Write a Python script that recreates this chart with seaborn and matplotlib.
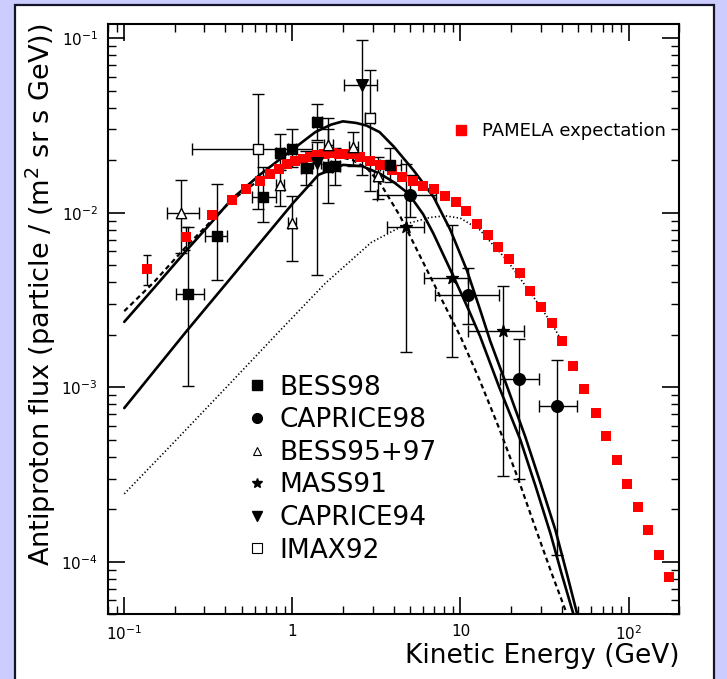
import numpy as np
import pandas as pd
import matplotlib
matplotlib.use("Agg")
import matplotlib.pyplot as plt
import seaborn as sns
from matplotlib.patches import Rectangle
from matplotlib.lines import Line2D
from matplotlib.ticker import FixedLocator, FixedFormatter, LogLocator, NullFormatter

# ---------------- data ----------------
pamela_E = [0.136, 0.234, 0.333, 0.437, 0.528, 0.643, 0.741, 0.838, 0.927, 1.04, 1.16, 1.28,
            1.40, 1.55, 1.71, 1.89, 2.11, 2.31, 2.51, 2.88, 3.33, 3.89, 4.47, 5.19, 6.01, 6.95,
            8.09, 9.40, 10.8, 12.6, 14.5, 16.8, 19.4, 22.5, 26.0, 30.1, 34.8, 40.4, 46.7, 54.4,
            63.7, 73.4, 84.9, 97.9, 113, 131, 152, 175]
pamela_F = [4.79e-3, 7.26e-3, 9.66e-3, 0.0118, 0.0136, 0.0153, 0.0167, 0.0179, 0.0191, 0.0197,
            0.0203, 0.0209, 0.0214, 0.0218, 0.0219, 0.0218, 0.0218, 0.0216, 0.0209, 0.0199,
            0.0188, 0.0175, 0.0161, 0.0152, 0.0142, 0.0136, 0.0125, 0.0115, 0.0102, 8.63e-3,
            7.41e-3, 6.33e-3, 5.42e-3, 4.49e-3, 3.55e-3, 2.87e-3, 2.34e-3, 1.84e-3, 1.33e-3,
            9.71e-4, 7.13e-4, 5.24e-4, 3.84e-4, 2.79e-4, 2.07e-4, 1.52e-4, 1.10e-4, 8.13e-5]
pamela_err_lo = [3.85e-3, 6.1e-3]   # first two points only
pamela_err_hi = [5.7e-3, 8.3e-3]

# model curves
curveA_E = [0.1, 0.15, 0.235, 0.33, 0.437, 0.64, 1.0, 1.37, 1.7, 2.0, 2.4, 2.76, 3.3, 4.0, 5.26,
            6.92, 8.69, 10.9, 13.1, 15.0, 19.0, 24.3, 30.0, 36.7, 43.0, 49.5]
curveA_F = [2.37e-3, 3.7e-3, 6.1e-3, 8.8e-3, 0.0120, 0.0165, 0.023, 0.029, 0.032, 0.0334, 0.0327,
            0.0316, 0.029, 0.024, 0.0175, 0.0123, 8.0e-3, 4.7e-3, 2.77e-3, 1.85e-3, 1.0e-3,
            5.2e-4, 2.8e-4, 1.52e-4, 8.5e-5, 5.0e-5]
curveB_E = [0.1, 0.235, 0.437, 0.738, 1.02, 1.43, 2.0, 2.6, 3.3, 4.0, 4.9, 6.0, 6.9, 9.1, 11.2,
            13.1, 17.0, 22.7, 28.0, 34.3, 40.0, 47.0]
curveB_F = [7.6e-4, 2.1e-3, 4.3e-3, 7.9e-3, 0.0115, 0.0165, 0.0188, 0.0185, 0.0168, 0.0150,
            0.0129, 9.8e-3, 7.6e-3, 4.3e-3, 2.77e-3, 1.95e-3, 1.0e-3, 5.0e-4, 2.7e-4, 1.45e-4,
            8.5e-5, 5.0e-5]
curveC_E = [0.1, 0.15, 0.23, 0.33, 0.437, 0.64, 1.0, 1.4, 1.8, 2.3, 2.8, 3.34, 4.39, 5.77, 7.59,
            10.0, 13.0, 17.0, 22.0, 28.0, 35.0, 43.0]
curveC_F = [2.73e-3, 4.0e-3, 6.3e-3, 9.0e-3, 0.0118, 0.0155, 0.0195, 0.021, 0.0212, 0.020, 0.0178,
            0.0147, 9.5e-3, 5.6e-3, 3.3e-3, 1.95e-3, 1.1e-3, 5.8e-4, 3.0e-4, 1.55e-4, 8.5e-5, 5.0e-5]
curveD_E = [0.1, 0.2, 0.437, 0.8, 1.56, 2.94, 4.0, 4.89, 6.6, 8.13, 10.0, 13.0, 15.5, 18.9, 23.8,
            29.9, 35.0, 40.0]
curveD_F = [2.45e-4, 4.9e-4, 1.08e-3, 2.0e-3, 3.92e-3, 6.75e-3, 7.9e-3, 8.7e-3, 9.4e-3, 9.6e-3,
            9.3e-3, 8.0e-3, 6.6e-3, 5.35e-3, 3.93e-3, 2.89e-3, 2.3e-3, 1.85e-3]

# experiments: E, F, E_lo, E_hi, F_lo, F_hi
bess98_E = [0.239, 0.356, 0.673, 0.845, 0.99, 1.20, 1.41, 1.62, 1.80, 3.82]
bess98_F = [3.44e-3, 7.38e-3, 0.0123, 0.0221, 0.0231, 0.0180, 0.0332, 0.0183, 0.0185, 0.0187]
bess98_Elo = [0.204, 0.303, 0.574, 0.80, 0.94, 1.12, 1.33, 1.52, 1.70, 3.3]
bess98_Ehi = [0.298, 0.411, 0.80, 0.89, 1.05, 1.30, 1.50, 1.72, 1.92, 4.4]
bess98_Flo = [1.02e-3, 4.1e-3, 8.9e-3, 0.0175, 0.0182, 0.0145, 0.026, 0.0113, 0.0145, 0.0150]
bess98_Fhi = [8.3e-3, 0.0147, 0.0184, 0.0284, 0.030, 0.0225, 0.0419, 0.0347, 0.0235, 0.0235]

caprice98_E = [4.98, 11.1, 22.2, 37.3]
caprice98_F = [0.0126, 3.37e-3, 1.11e-3, 7.78e-4]
caprice98_Elo = [3.2, 7.08, 17.2, 29.3]
caprice98_Ehi = [7.2, 16.9, 29.3, 49.2]
caprice98_Flo = [9.5e-3, 2.3e-3, 3.0e-4, 1.1e-4]
caprice98_Fhi = [0.0165, 4.8e-3, 1.9e-3, 1.44e-3]

bess9597_E = [0.217, 0.845, 0.99, 1.64, 2.31, 3.24]
bess9597_F = [9.95e-3, 0.0144, 8.7e-3, 0.0244, 0.0239, 0.0163]
bess9597_Elo = [0.179, 0.80, 0.94, 1.55, 2.18, 3.05]
bess9597_Ehi = [0.280, 0.89, 1.05, 1.74, 2.45, 3.45]
bess9597_Flo = [5.9e-3, 0.011, 5.3e-3, 0.019, 0.0185, 0.0120]
bess9597_Fhi = [0.0154, 0.018, 0.0125, 0.030, 0.029, 0.021]

mass91_E = [4.73, 8.93, 18.0]
mass91_F = [8.24e-3, 4.2e-3, 2.09e-3]
mass91_Elo = [3.67, 6.1, 11.1]
mass91_Ehi = [6.1, 11.1, 24.0]
mass91_Flo = [1.6e-3, 1.5e-3, 3.1e-4]
mass91_Fhi = [0.019, 8.5e-3, 3.8e-3]

caprice94_E = [1.40, 2.59]
caprice94_F = [0.0192, 0.0543]
caprice94_Elo = [1.32, 2.04]
caprice94_Ehi = [1.48, 3.17]
caprice94_Flo = [4.4e-3, 0.0164]
caprice94_Fhi = [0.0255, 0.0975]

imax92_E = [0.628, 2.88]
imax92_F = [0.0233, 0.0349]
imax92_Elo = [0.252, 2.70]
imax92_Ehi = [1.30, 3.05]
imax92_Flo = [0.0105, 0.0134]
imax92_Fhi = [0.0479, 0.066]

legend_labels = ["BESS98", "CAPRICE98", "BESS95+97", "MASS91", "CAPRICE94", "IMAX92"]
x_tick_vals = [0.1, 1, 10, 100]
x_tick_labels = ["$10^{-1}$", "1", "10", "$10^{2}$"]
y_tick_vals = [1e-4, 1e-3, 1e-2, 1e-1]
y_tick_labels = ["$10^{-4}$", "$10^{-3}$", "$10^{-2}$", "$10^{-1}$"]

# ---------------- style ----------------
sns.set_theme(style="ticks")
plt.rcParams['font.family'] = ['DejaVu Sans']
plt.rcParams['mathtext.fontset'] = 'dejavusans'
plt.rcParams['mathtext.default'] = 'regular'
for k in ['text.color', 'axes.labelcolor', 'xtick.color', 'ytick.color', 'axes.edgecolor']:
    plt.rcParams[k] = 'black'

W, H = 727, 679
fig = plt.figure(figsize=(W / 100, H / 100), dpi=100)
fig.patch.set_facecolor('#ccccff')
fig.add_artist(Rectangle((15 / W, -0.05), (714 - 15) / W, 1 - 5 / H + 0.05,
                         transform=fig.transFigure, facecolor='white',
                         edgecolor='#15152a', lw=1.6, zorder=0))

ax = fig.add_axes([107.6 / W, 1 - 614.3 / H, (679.2 - 107.6) / W, (614.3 - 23.8) / H])
ax.set_facecolor('white')
ax.set_xscale('log')
ax.set_yscale('log')

# model curves
curve_specs = [
    (curveA_E, curveA_F, '-', 1.9),
    (curveB_E, curveB_F, '-', 1.9),
    (curveC_E, curveC_F, (0, (2.2, 1.6)), 1.6),
    (curveD_E, curveD_F, (0, (0.8, 1.4)), 1.2),
]
for cx, cy, ls, lw in curve_specs:
    df = pd.DataFrame({"E": cx, "F": cy})
    sns.lineplot(data=df, x="E", y="F", ax=ax, sort=False, estimator=None,
                 color='black', lw=lw, zorder=2)
    ax.lines[-1].set_linestyle(ls)

# experiments
experiments = [
    (bess98_E, bess98_F, bess98_Elo, bess98_Ehi, bess98_Flo, bess98_Fhi, 's', 'black', 42),
    (caprice98_E, caprice98_F, caprice98_Elo, caprice98_Ehi, caprice98_Flo, caprice98_Fhi, 'o', 'black', 70),
    (bess9597_E, bess9597_F, bess9597_Elo, bess9597_Ehi, bess9597_Flo, bess9597_Fhi, '^', 'white', 55),
    (mass91_E, mass91_F, mass91_Elo, mass91_Ehi, mass91_Flo, mass91_Fhi, '*', 'black', 80),
    (caprice94_E, caprice94_F, caprice94_Elo, caprice94_Ehi, caprice94_Flo, caprice94_Fhi, 'v', 'black', 70),
    (imax92_E, imax92_F, imax92_Elo, imax92_Ehi, imax92_Flo, imax92_Fhi, 's', 'white', 55),
]
for e, f, elo, ehi, flo, fhi, mk, fc, s in experiments:
    e = np.array(e); f = np.array(f)
    xerr = [e - np.array(elo), np.array(ehi) - e]
    yerr = [f - np.array(flo), np.array(fhi) - f]
    ax.errorbar(e, f, xerr=xerr, yerr=yerr, fmt='none', ecolor='black',
                elinewidth=1.0, capsize=4, capthick=1.0, zorder=3)

# PAMELA
pe = np.array(pamela_E[:2]); pf = np.array(pamela_F[:2])
ax.errorbar(pe, pf, yerr=[pf - np.array(pamela_err_lo), np.array(pamela_err_hi) - pf],
            fmt='none', ecolor='black', elinewidth=1.0, capsize=3, zorder=3)
sns.scatterplot(x=pamela_E, y=pamela_F, marker='s', s=58, color='#ff0000',
                linewidth=0, ax=ax, zorder=4)

for e, f, elo, ehi, flo, fhi, mk, fc, s in experiments:
    sns.scatterplot(x=e, y=f, marker=mk, s=s, color=fc, edgecolor='black',
                    linewidth=1.0, ax=ax, zorder=5)

# axes
ax.set_xlim(0.0796, 200)
ax.set_ylim(5.0e-5, 0.121)
ax.xaxis.set_major_locator(FixedLocator(x_tick_vals))
ax.xaxis.set_major_formatter(FixedFormatter(x_tick_labels))
ax.yaxis.set_major_locator(FixedLocator(y_tick_vals))
ax.yaxis.set_major_formatter(FixedFormatter(y_tick_labels))
ax.xaxis.set_minor_locator(LogLocator(base=10, subs=np.arange(2, 10), numticks=20))
ax.yaxis.set_minor_locator(LogLocator(base=10, subs=np.arange(2, 10), numticks=20))
ax.xaxis.set_minor_formatter(NullFormatter())
ax.yaxis.set_minor_formatter(NullFormatter())
ax.tick_params(which='major', direction='in', length=12, width=1.2, top=True, right=True,
               labelsize=11, pad=7, colors='black')
ax.tick_params(which='minor', direction='in', length=6, width=1.0, top=True, right=True)
for sp in ax.spines.values():
    sp.set_color('black')
    sp.set_linewidth(1.5)

ax.set_xlabel('Kinetic Energy (GeV)', fontsize=19, loc='right', labelpad=0, color='black')
ax.set_ylabel('Antiproton flux (particle / (m$^2$ sr s GeV))', fontsize=19.5, loc='top',
              labelpad=2, color='black')

# legends
handles = [
    Line2D([], [], ls='none', marker='s', ms=7, mfc='black', mec='black'),
    Line2D([], [], ls='none', marker='o', ms=7, mfc='black', mec='black'),
    Line2D([], [], ls='none', marker='^', ms=6, mfc='white', mec='black', mew=0.8),
    Line2D([], [], ls='none', marker='*', ms=7, mfc='black', mec='black'),
    Line2D([], [], ls='none', marker='v', ms=7, mfc='black', mec='black'),
    Line2D([], [], ls='none', marker='s', ms=7, mfc='white', mec='black', mew=0.8),
]
leg1 = ax.legend(handles, legend_labels, loc='upper left', bbox_to_anchor=(0.245, 0.406),
                 frameon=False, fontsize=19, handlelength=0.7, handletextpad=0.5,
                 labelspacing=0.25, borderpad=0, borderaxespad=0, labelcolor='black')
ax.add_artist(leg1)
h2 = [Line2D([], [], ls='none', marker='s', ms=7.5, mfc='#ff0000', mec='#ff0000')]
ax.legend(h2, ["PAMELA expectation"], loc='upper left', bbox_to_anchor=(0.607, 0.833),
          frameon=False, fontsize=13, handlelength=0.7, handletextpad=0.8,
          borderpad=0, borderaxespad=0, labelcolor='black')

fig.savefig("out.png", dpi=100, facecolor=fig.get_facecolor())
